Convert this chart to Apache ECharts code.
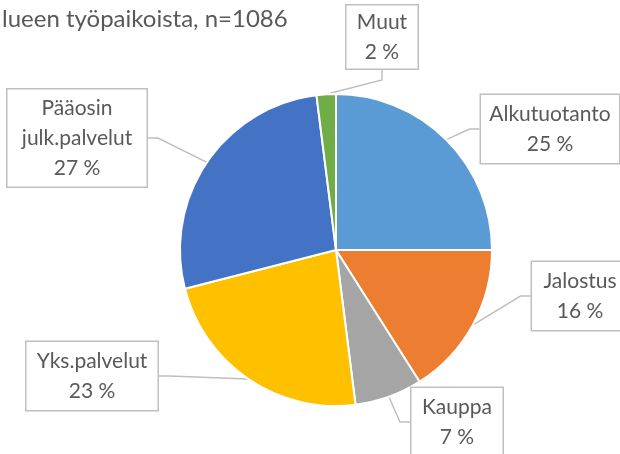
<!DOCTYPE html>
<html>
<head>
<meta charset="utf-8">
<script src="https://cdn.jsdelivr.net/npm/echarts@6/dist/echarts.min.js"></script>
<style>
  html, body { margin: 0; padding: 0; background: #fff; }
  #chart { width: 620px; height: 454px; }
</style>
</head>
<body>
<div id="chart"></div>
<script>
const titleText = 'lueen työpaikoista, n=1086'
const categories = ['Alkutuotanto', 'Jalostus', 'Kauppa', 'Yks.palvelut', 'Pääosin\njulk.palvelut', 'Muut']
const values = [25, 16, 7, 23, 27, 2]
const colors = ['#5b9bd5', '#ed7d31', '#a5a5a5', '#ffc000', '#4472c4', '#70ad47']

// callout boxes: centre x, centre y, width, height
const boxes = [
  [550, 129, 138, 68],
  [580, 296, 96, 68],
  [457, 422, 91, 68],
  [92, 376, 131, 68],
  [77, 138, 139, 97],
  [382, 37, 71, 63]
]

const chart = echarts.init(document.getElementById('chart'))

chart.setOption({
  backgroundColor: '#fff',
  animation: false,
  title: {
    text: titleText,
    left: -3,
    top: 2,
    textStyle: { color: '#595959', fontSize: 24, fontWeight: 'normal', fontFamily: 'Lato' }
  },
  series: [{
    type: 'pie',
    center: [336, 250],
    radius: 156,
    startAngle: 90,
    clockwise: true,
    itemStyle: { borderColor: '#fff', borderWidth: 2 },
    data: categories.map((c, i) => ({
      name: c,
      value: values[i],
      itemStyle: { color: colors[i] },
      label: { width: boxes[i][2], height: boxes[i][3] }
    })),
    label: {
      show: true,
      position: 'outside',
      formatter: p => p.name + '\n' + p.value + ' %',
      color: '#595959',
      fontSize: 21,
      fontFamily: 'Lato',
      lineHeight: 30,
      align: 'center',
      verticalAlign: 'middle',
      backgroundColor: '#fff',
      borderColor: '#bfbfbf',
      borderWidth: 1.5,
      padding: 0
    },
    labelLine: {
      show: true,
      lineStyle: { color: '#bfbfbf', width: 1.5 },
      length: 10,
      length2: 10
    },
    labelLayout: p => {
      const b = boxes[p.dataIndex]
      return { x: b[0], y: b[1], align: 'center', verticalAlign: 'middle' }
    }
  }]
})
</script>
</body>
</html>
